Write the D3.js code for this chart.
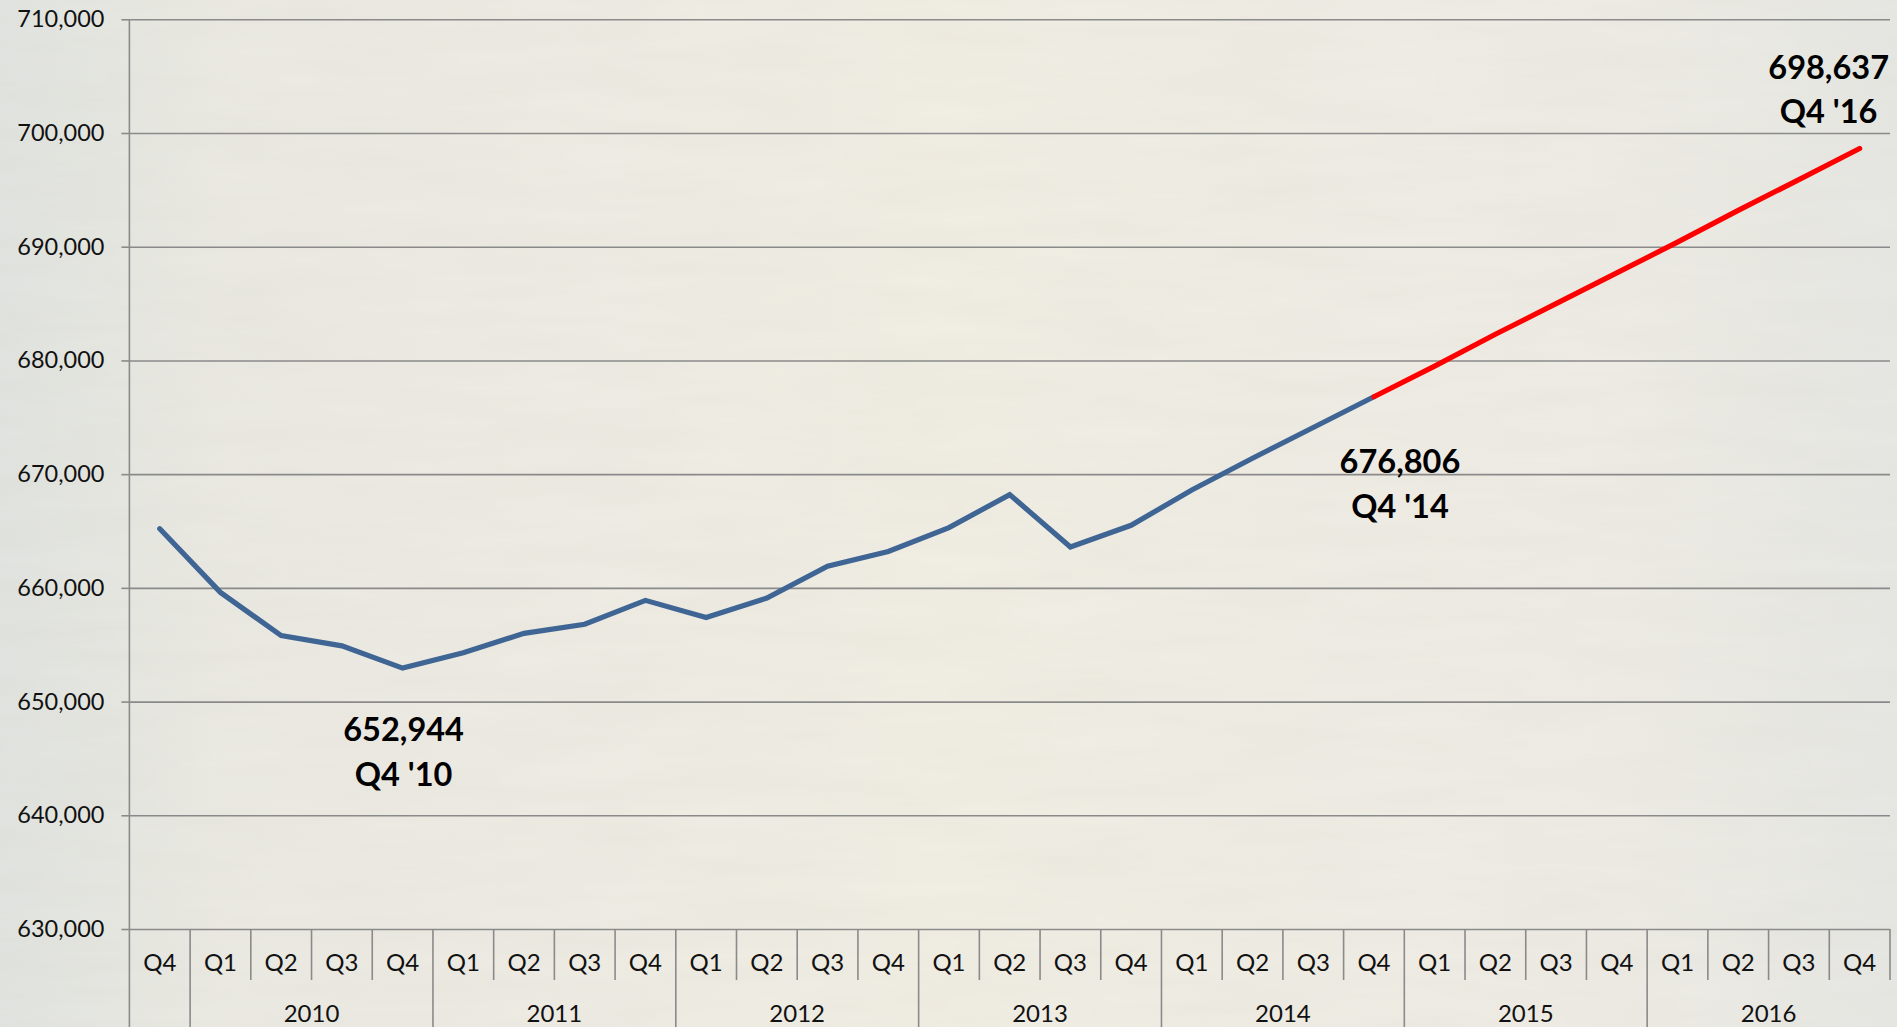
<!DOCTYPE html>
<html>
<head>
<meta charset="utf-8">
<script src="https://cdn.jsdelivr.net/npm/d3@7"></script>
<style>
  html, body { margin: 0; padding: 0; overflow: hidden; }
  body { width: 1897px; height: 1027px; }
  svg { display: block; }
</style>
</head>
<body>
<svg id="chart" width="1897" height="1027"></svg>
<script>
// ---- data ----
const categories = [
  "Q4 2009",
  "Q1 2010","Q2 2010","Q3 2010","Q4 2010",
  "Q1 2011","Q2 2011","Q3 2011","Q4 2011",
  "Q1 2012","Q2 2012","Q3 2012","Q4 2012",
  "Q1 2013","Q2 2013","Q3 2013","Q4 2013",
  "Q1 2014","Q2 2014","Q3 2014","Q4 2014",
  "Q1 2015","Q2 2015","Q3 2015","Q4 2015",
  "Q1 2016","Q2 2016","Q3 2016","Q4 2016"
];
const actualValues = [665200, 659600, 655800, 654900, 652944, 654300, 656000, 656800, 658900,
  657400, 659100, 661900, 663200, 665300, 668200, 663600, 665500, 668600, 671400, 674100, 676806];
const forecastCategories = ["Q4 2014","Q1 2015","Q2 2015","Q3 2015","Q4 2015","Q1 2016","Q2 2016","Q3 2016","Q4 2016"];
const forecastValues = [676806, 679500, 682300, 685000, 687700, 690400, 693200, 695900, 698637];
const yTicks = [630000, 640000, 650000, 660000, 670000, 680000, 690000, 700000, 710000];
const years = ["2010","2011","2012","2013","2014","2015","2016"];
const callouts = [
  {category: "Q4 2010", value: "652,944", label: "Q4 '10"},
  {category: "Q4 2014", value: "676,806", label: "Q4 '14"},
  {category: "Q4 2016", value: "698,637", label: "Q4 '16"}
];

// ---- layout ----
const W = 1897, H = 1027;
const mLeft = 129.4, mRight = 1890, mTop = 19.3, mBottom = 929;
const svg = d3.select("#chart");

// background (paper-like)
const defs = svg.append("defs");
const grad = defs.append("linearGradient").attr("id", "bg").attr("x1", 0).attr("x2", 1).attr("y1", 0).attr("y2", 0);
grad.append("stop").attr("offset", "0%").attr("stop-color", "#e1e4e0");
grad.append("stop").attr("offset", "12%").attr("stop-color", "#ebeae3");
grad.append("stop").attr("offset", "50%").attr("stop-color", "#f1eee4");
grad.append("stop").attr("offset", "85%").attr("stop-color", "#eeece5");
grad.append("stop").attr("offset", "100%").attr("stop-color", "#e7e8e4");
svg.append("rect").attr("width", W).attr("height", H).attr("fill", "url(#bg)");
const filt = defs.append("filter").attr("id", "paper").attr("x", 0).attr("y", 0).attr("width", "100%").attr("height", "100%");
filt.append("feTurbulence").attr("type", "fractalNoise").attr("baseFrequency", "0.006 0.04").attr("numOctaves", 3).attr("seed", 4);
filt.append("feColorMatrix").attr("type", "matrix")
  .attr("values", "0 0 0 0 0.55  0 0 0 0 0.52  0 0 0 0 0.45  0 0 0 0.12 0");
svg.append("rect").attr("width", W).attr("height", H).attr("filter", "url(#paper)");

const x = d3.scaleBand().domain(categories).range([mLeft, mRight]).padding(0);
const y = d3.scaleLinear().domain([630000, 710000]).range([mBottom, mTop]);
const cx = c => x(c) + x.bandwidth() / 2;

const gridColor = "#8a8a8a";
const fontFam = "Lato, 'Open Sans', 'DejaVu Sans', sans-serif";

// y axis with gridlines
const yAxis = d3.axisLeft(y).tickValues(yTicks).tickFormat(d3.format(",")).tickSize(8).tickPadding(17);
const gy = svg.append("g").attr("transform", `translate(${mLeft},0)`).call(yAxis);
gy.select(".domain").remove();
gy.selectAll(".tick line").attr("stroke", gridColor).attr("stroke-width", 1.6);
gy.selectAll(".tick text").attr("font-family", fontFam).attr("font-size", 23.5).attr("fill", "#111");
gy.selectAll(".tick").append("line")
  .attr("x1", 0).attr("x2", mRight - mLeft).attr("stroke", gridColor).attr("stroke-width", 1.6);

// vertical axis line
svg.append("line").attr("x1", mLeft).attr("x2", mLeft).attr("y1", mTop).attr("y2", H)
  .attr("stroke", gridColor).attr("stroke-width", 1.6);

// x axis: quarter cells
const gx = svg.append("g");
const quarterOf = c => c.split(" ")[0];
gx.selectAll("text.q").data(categories).join("text").attr("class", "q")
  .attr("x", d => cx(d)).attr("y", 971)
  .attr("text-anchor", "middle").attr("font-family", fontFam).attr("font-size", 24).attr("fill", "#111")
  .text(d => quarterOf(d));
// separators between cells
gx.selectAll("line.sep").data(categories.slice(1)).join("line").attr("class", "sep")
  .attr("x1", d => x(d)).attr("x2", d => x(d)).attr("y1", mBottom)
  .attr("y2", d => (quarterOf(d) === "Q1") ? H : 980)
  .attr("stroke", gridColor).attr("stroke-width", 1.6);
// right edge
svg.append("line").attr("x1", mRight).attr("x2", mRight).attr("y1", mBottom).attr("y2", 980)
  .attr("stroke", gridColor).attr("stroke-width", 1.6);
// year labels
gx.selectAll("text.yr").data(years).join("text").attr("class", "yr")
  .attr("x", d => (x("Q1 " + d) + x("Q4 " + d) + x.bandwidth()) / 2).attr("y", 1022)
  .attr("text-anchor", "middle").attr("font-family", fontFam).attr("font-size", 24).attr("fill", "#111")
  .text(d => d);

// lines
const line = d3.line().x(d => cx(d[0])).y(d => y(d[1]));
svg.append("path").datum(categories.slice(0, actualValues.length).map((c, i) => [c, actualValues[i]]))
  .attr("d", line).attr("fill", "none").attr("stroke", "#3f6594").attr("stroke-width", 5.2)
  .attr("stroke-linejoin", "miter").attr("stroke-linecap", "round");
svg.append("path").datum(forecastCategories.map((c, i) => [c, forecastValues[i]]))
  .attr("d", line).attr("fill", "none").attr("stroke", "#ff0000").attr("stroke-width", 5.2)
  .attr("stroke-linecap", "round");

// callouts
const offsets = [
  {dx: 1, dy1: 73, dy2: 118},
  {dx: 26, dy1: 76, dy2: 121},
  {dx: -31, dy1: -70, dy2: -26}
];
const valueOf = c => {
  const i = categories.indexOf(c);
  return i < actualValues.length ? actualValues[i] : forecastValues[forecastCategories.indexOf(c)];
};
callouts.forEach((co, i) => {
  const px = cx(co.category), py = y(valueOf(co.category));
  const o = offsets[i];
  const t = svg.append("text").attr("text-anchor", "middle").attr("font-family", fontFam)
    .attr("font-weight", "bold").attr("font-size", 32.5).attr("fill", "#000");
  t.append("tspan").attr("x", px + o.dx).attr("y", py + o.dy1).text(co.value);
  t.append("tspan").attr("x", px + o.dx).attr("y", py + o.dy2).text(co.label);
});
</script>
</body>
</html>
